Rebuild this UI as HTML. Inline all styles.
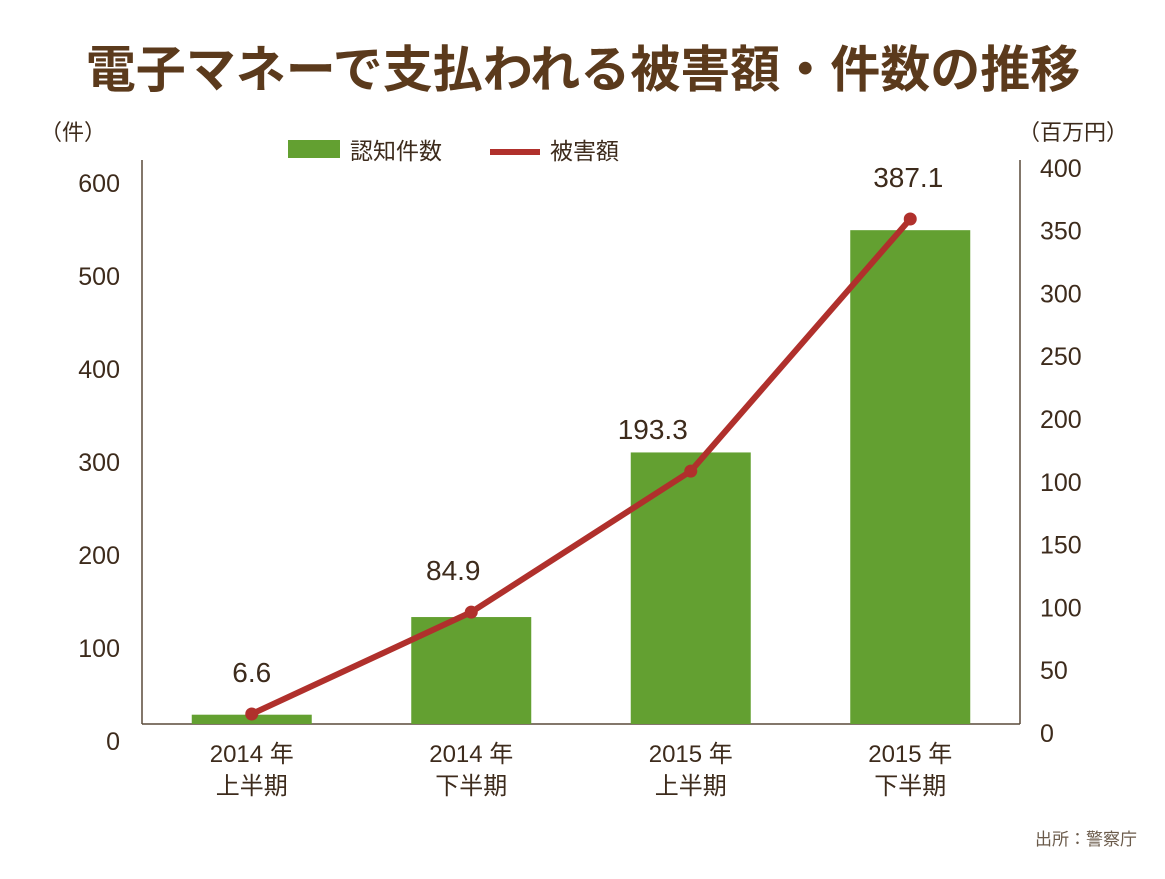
<!DOCTYPE html>
<html><head><meta charset="utf-8"><style>
body{margin:0;background:#fff;}
svg text{font-family:"Liberation Sans","Noto Sans CJK JP",sans-serif;}
</style></head><body>
<svg width="1165" height="874" viewBox="0 0 1165 874" xmlns="http://www.w3.org/2000/svg">
<text x="583" y="87" text-anchor="middle" font-size="50" font-weight="bold" fill="#5b3a1c">電子マネーで支払われる被害額・件数の推移</text>
<text x="40" y="140" font-size="22" fill="#3d2b1c">（件）</text>
<text x="1018" y="140" font-size="22" fill="#3d2b1c">（百万円）</text>
<g>
<rect x="288" y="140" width="52" height="18" fill="#63a031"/>
<text x="350" y="159" font-size="23" fill="#3d2b1c">認知件数</text>
<line x1="490" y1="152" x2="540" y2="152" stroke="#b0302c" stroke-width="6"/>
<text x="550" y="159" font-size="23" fill="#3d2b1c">被害額</text>
</g>
<g id="plot"></g>
<text x="1137" y="845" text-anchor="end" font-size="17" fill="#6a5a4a">出所：警察庁</text>
</svg>
<script>
const categories=["2014 年|上半期","2014 年|下半期","2015 年|上半期","2015 年|下半期"];
const counts=[10,115,292,531];
const damage=[6.6,84.9,193.3,387.1];
const damageLabels=["6.6","84.9","193.3","387.1"];
const leftTicks=[0,100,200,300,400,500,600];
const rightTicks=[0,50,100,150,100,200,250,300,350,400];
const NS="http://www.w3.org/2000/svg";
const g=document.getElementById('plot');
const X0=142,X1=1020,Y0=724;
const band=(X1-X0)/categories.length;
const xc=i=>X0+band*(i+0.5);
const yL=v=>Y0-v*0.93;
const yR=v=>722.6-v*1.301;
function mk(t,a){const e=document.createElementNS(NS,t);for(const k in a)e.setAttribute(k,a[k]);g.appendChild(e);return e;}
let e;
e=mk('line',{x1:X0,y1:160,x2:X0,y2:Y0,stroke:'#5a4a3a','stroke-width':1.5});


e=mk('line',{x1:X1,y1:160,x2:X1,y2:Y0,stroke:'#5a4a3a','stroke-width':1.5});


e=mk('line',{x1:X0,y1:Y0,x2:X1,y2:Y0,stroke:'#5a4a3a','stroke-width':1.5});


leftTicks.forEach(v=>{const t=mk('text',{x:120,y:yL(v)+26,'text-anchor':'end','font-size':25,fill:'#3d2b1c'});t.textContent=v;

});
rightTicks.forEach((v,i)=>{const y=733-i*62.8;const t=mk('text',{x:1040,y:y+9,'font-size':25,fill:'#3d2b1c'});t.textContent=v;

});
counts.forEach((v,i)=>{const r=mk('rect',{x:xc(i)-60,y:yL(v),width:120,height:Y0-yL(v),fill:'#63a031'});

});
categories.forEach((c,i)=>{const [a,b]=c.split('|');
const t1=mk('text',{x:xc(i),y:762,'text-anchor':'middle','font-size':24,fill:'#3d2b1c'});t1.textContent=a;


const t2=mk('text',{x:xc(i),y:794,'text-anchor':'middle','font-size':24,fill:'#3d2b1c'});t2.textContent=b;

});
const pts=damage.map((v,i)=>xc(i)+','+yR(v)).join(' ');
e=mk('polyline',{points:pts,fill:'none',stroke:'#b0302c','stroke-width':6,'stroke-linejoin':'round'});


damage.forEach((v,i)=>{const c=mk('circle',{cx:xc(i),cy:yR(v),r:6.5,fill:'#b0302c'});


const t=mk('text',{x:xc(i)+(i==3?-2:i==2?-38:i==1?-18:0),y:yR(v)-32,'text-anchor':'middle','font-size':28,fill:'#3d2b1c'});t.textContent=damageLabels[i];

});
</script>
</body></html>
